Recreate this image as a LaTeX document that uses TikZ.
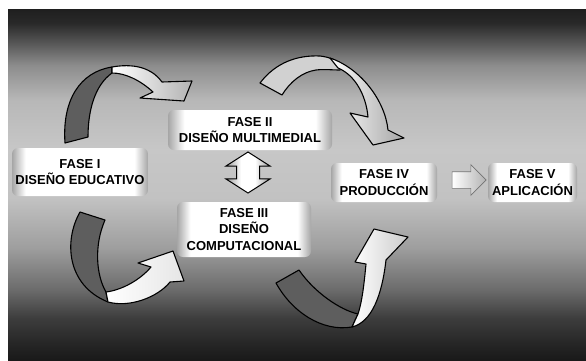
\documentclass[tikz,border=0pt]{standalone}
\usepackage{fontspec}
\setmainfont{Liberation Sans}
\usetikzlibrary{shapes.arrows}
\pgfdeclareverticalshading{bgshade}{100bp}{color(0bp)=(black!90); color(25bp)=(black!90); color(27bp)=(black!86); color(31bp)=(black!76); color(35bp)=(black!58); color(41bp)=(black!38); color(48bp)=(black!24); color(55bp)=(black!22); color(62bp)=(black!28); color(67bp)=(black!45); color(70bp)=(black!65); color(73bp)=(black!84); color(75bp)=(black!88); color(100bp)=(black!88)}
\pgfdeclarehorizontalshading{boxshade}{100bp}{color(0bp)=(black!35); color(25bp)=(black!35); color(30bp)=(white); color(70bp)=(white); color(75bp)=(black!35); color(100bp)=(black!35)}
\pgfdeclarehorizontalshading{cylshade}{100bp}{color(0bp)=(black!40); color(25bp)=(black!40); color(42bp)=(white); color(58bp)=(white); color(75bp)=(black!40); color(100bp)=(black!40)}
\tikzset{
  fase/.style={shade, shading=boxshade, rounded corners=6pt, inner sep=0pt, align=center,
    font=\bfseries\fontsize{13}{16.5}\selectfont, text=black},
  ribbon/.style={draw=black, line width=1.1pt, line join=round},
  darkpart/.style={ribbon, fill=black!63},
  greypart/.style={ribbon, fill=black!18},
}
\begin{document}
\begin{tikzpicture}[x=1pt,y=-1pt]
\useasboundingbox (0,0) rectangle (586,360);
\fill[white] (0,0) rectangle (586,360);
\shade[shading=bgshade] (8,9) rectangle (586,360);

% curved arrow 1 (Fase I -> Fase II)
\path[darkpart] (65,143) .. controls (62,100) and (80,72) .. (112,67) -- (112,73) .. controls (95,85) and (88,110) .. (88,137) -- cycle;
\path[ribbon, left color=white, right color=black!30] (112,67) .. controls (140,62) and (155,72) .. (162,82) -- (192,81) -- (184,101) -- (140,98) -- (153,92) .. controls (140,80) and (125,73) .. (112,73) -- cycle;

% curved arrow 2 (Fase II -> Fase IV)
\path[greypart] (260,83) .. controls (276,62) and (298,55) .. (320,56) .. controls (330,57) and (338,61) .. (343,66) -- (340,70) .. controls (332,70) and (324,69) .. (316,70) .. controls (302,72) and (290,82) .. (282,95) -- cycle;
\path[ribbon, left color=white, right color=black!35] (330,58) .. controls (360,68) and (385,100) .. (388,130) -- (404,138) -- (373,145) -- (350,113) -- (368,117) .. controls (366,95) and (355,75) .. (338,68) -- cycle;

% curved arrow 3 (Fase I -> Fase III)
\path[darkpart] (80,212) .. controls (64,240) and (66,285) .. (108,302) -- (106,292) .. controls (96,275) and (94,245) .. (105,220) -- cycle;
\path[ribbon, left color=white, right color=black!10] (108,302) .. controls (130,308) and (158,297) .. (170,282) -- (184,281) -- (173,251) -- (138,263) -- (151,267) .. controls (140,280) and (122,290) .. (106,292) -- cycle;

% curved arrow 4 (Fase III -> Fase IV)
\path[darkpart] (276,283) .. controls (292,312) and (322,332) .. (352,327) -- (358,314) .. controls (340,310) and (314,292) .. (299,270) -- cycle;
\path[ribbon, left color=white, right color=black!20] (352,327) .. controls (372,322) and (382,295) .. (386,260) -- (408,237) -- (374,229) -- (355,262) -- (366,264) .. controls (364,285) and (362,302) .. (358,314) -- cycle;

% phase boxes
\node[fase, minimum width=136pt, minimum height=48pt] (f1) at (80,172) {FASE I\\DISEÑO EDUCATIVO};
\node[fase, minimum width=164pt, minimum height=40pt] (f2) at (250,130) {FASE II\\DISEÑO MULTIMEDIAL};
\node[fase, minimum width=134pt, minimum height=55pt] (f3) at (244,229.5) {FASE III\\DISEÑO\\COMPUTACIONAL};
\node[fase, minimum width=106pt, minimum height=39pt] (f4) at (384,182.5) {FASE IV\\PRODUCCIÓN};
\node[fase, minimum width=89pt, minimum height=39pt] (f5) at (532.5,182.5) {FASE V\\APLICACIÓN};

% double arrow between Fase II and Fase III
\node[double arrow, shape border rotate=90, draw=black, line width=1pt, shade, shading=cylshade,
  minimum height=41pt, inner sep=11pt, double arrow head extend=10.5pt, double arrow tip angle=115] (da) at (248,172.5) {};

% block arrow Fase IV -> Fase V
\node[single arrow, draw=black!55, line width=0.6pt, left color=white, right color=black!30,
  minimum height=34pt, inner sep=8pt, single arrow head extend=7pt] (sa) at (465,180) {};
\end{tikzpicture}
\end{document}
